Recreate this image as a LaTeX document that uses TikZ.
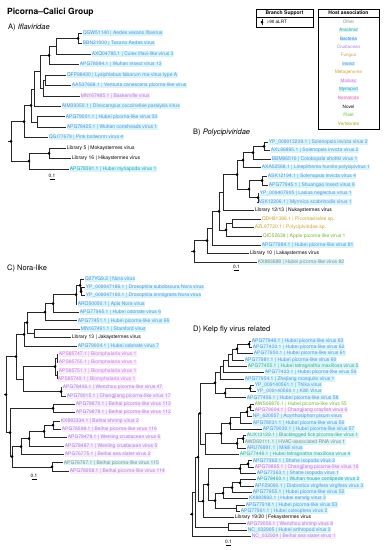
\documentclass[tikz,border=0pt]{standalone}
\usepackage{fontspec}
\setmainfont{TeX Gyre Heros}
\definecolor{hlc}{HTML}{D6F6FA}
\definecolor{hlp}{HTML}{FBEAFB}
\definecolor{cIns}{HTML}{5A90E4}
\definecolor{cCru}{HTML}{A583E2}
\definecolor{cMol}{HTML}{C483E2}
\definecolor{cMyr}{HTML}{2AA3B3}
\definecolor{cAra}{HTML}{3FAE8F}
\definecolor{cBac}{HTML}{3D7FE0}
\definecolor{cFun}{HTML}{C8A24A}
\definecolor{cMet}{HTML}{CFA020}
\definecolor{cNem}{HTML}{E37FA8}
\definecolor{cPla}{HTML}{6FB82A}
\definecolor{cVer}{HTML}{B5A400}
\definecolor{cOth}{HTML}{8A8A8A}
\tikzset{
  lab/.style={anchor=west,inner sep=0.35pt,xshift=0.3pt,font=\fontsize{5}{5}\selectfont},
  ins/.style={text=cIns,fill=hlc},
  cru/.style={text=cCru,fill=hlp},
  mol/.style={text=cMol,fill=hlp},
  myr/.style={text=cMyr,fill=hlc},
  ara/.style={text=cAra,fill=hlc},
  bac/.style={text=cBac,fill=hlc},
  fun/.style={text=cFun},
  met/.style={text=cMet},
  nem/.style={text=cNem,fill=hlp},
  pla/.style={text=cPla},
  ver/.style={text=cVer},
  oth/.style={text=cOth,fill=hlc},
  nov/.style={text=black},
  br/.style={line width=0.6pt,black!85},
  ptitle/.style={anchor=west,inner sep=0pt,font=\fontsize{7.5}{8}\selectfont},
  sbar/.style={line width=0.6pt},
  stxt/.style={inner sep=0pt,font=\fontsize{4.8}{5}\selectfont},
  legtxt/.style={inner sep=0.4pt,font=\fontsize{4.6}{5}\selectfont},
  leghead/.style={inner sep=0pt,font=\bfseries\fontsize{5}{5}\selectfont}
}
\newcommand\lf[5]{\coordinate (#1) at (#2,#3);\node[lab,#4] (#1t) at (#1) {#5};}
\newcommand\nd[3]{\coordinate (#1) at (#2,#3);}
\newcommand\ed[3]{\draw[br] (#1) |- (#2); \draw[br] (#1) |- (#3);}
\newcommand\dt[1]{\fill (#1) circle (1.5);}
\begin{document}
\begin{tikzpicture}[x=1pt,y=-1pt]
\useasboundingbox (0,0) rectangle (389,550);
\fill[white] (0,0) rectangle (389,550);
% ---------- title ----------
\node[anchor=west,inner sep=0pt,font=\bfseries\fontsize{8.5}{9}\selectfont] (title) at (7,12.5) {Picorna–Calici Group};
% ---------- Panel A ----------
\node[ptitle] (ttlA) at (8,28) {A) \textit{Iflaviridae}};
\lf{a1}{82}{33}{ins}{QGW51140 | Aedes vexans iflavirus}
\lf{a2}{82}{43.5}{ins}{BBN21000 | Tesano Aedes virus}
\lf{a3}{91}{54}{ins}{AXQ04785.1 | Culex iflavi-like virus 3}
\lf{a4}{79}{64.4}{ins}{APG78984.1 | Wuhan insect virus 13}
\lf{a5}{66}{74.8}{ins}{QFP98430 | Lysiphlebus fabarum rna-virus type A}
\lf{a6}{71}{85.3}{ins}{AAS37668.1 | Venturia canescens picorna-like virus}
\lf{a7}{80}{95.8}{cru}{MN167485.1 | Baskerville virus}
\lf{a8}{61}{106.2}{ins}{AIM39350.1 | Dinocampus coccinellae paralysis virus}
\lf{a9}{65}{116.7}{ins}{APG79001.1 | Hubei picorna-like virus 30}
\lf{a10}{66}{127.1}{ins}{APG78425.1 | Wuhan coneheads virus 1}
\lf{a11}{48}{137.6}{ins}{QGI77679 | Pink bollworm virus 4}
\lf{a12}{66}{148}{nov}{Library 5 | Mokaystermes virus}
\lf{a13}{71}{158.5}{nov}{Library 16 | Hikaystermes virus}
\lf{a14}{69}{169}{myr}{APG78391.1 | Hubei myriapoda virus 1}
\nd{na1}{78}{38.25}\nd{na2}{56}{46.1}\nd{na3}{49}{55.25}\nd{na4}{45}{80.05}
\nd{na5}{43}{87.9}\nd{na6}{40}{71.6}\nd{na7}{34}{88.9}\nd{na8}{37}{121.9}
\nd{na9}{31}{105.4}\nd{na10}{24}{121.5}\nd{na11}{49}{153.25}\nd{na12}{29}{161.1}
\nd{naR}{11}{141.3}\nd{naS}{8}{141.3}
\ed{na1}{a1}{a2}\ed{na2}{na1}{a3}\ed{na3}{na2}{a4}\ed{na4}{a5}{a6}
\ed{na5}{na4}{a7}\ed{na6}{na3}{na5}\ed{na7}{na6}{a8}\ed{na8}{a9}{a10}
\ed{na9}{na7}{na8}\ed{na10}{na9}{a11}\ed{na11}{a12}{a13}\ed{na12}{na11}{a14}
\ed{naR}{na10}{na12}\draw[br] (naS) -- (naR);
\dt{na1}\dt{na3}\dt{na9}\dt{na10}\dt{na11}\dt{na12}\dt{naR}
\node[stxt] (sA) at (52,175.5) {0.1};
\coordinate (sA1) at (49.5,179); \coordinate (sA2) at (54.5,179);
\draw[sbar] (sA1) -- (sA2);
% ---------- Legend ----------
\node[draw,line width=0.5pt,minimum width=57pt,minimum height=18pt,inner sep=0pt] (bs) at (284.5,18) {};
\node[leghead] (bsh) at (284.5,12.8) {Branch Support};
\draw[line width=0.4pt] (256,17) -- (313,17);
\coordinate (bsd) at (262,22);
\draw[br] ([yshift=3pt]bsd) -- ([yshift=-3pt]bsd);
\dt{bsd}
\node[legtxt,anchor=west] (bst) at (266,22) {>90 aLRT};
\node[draw,line width=0.5pt,minimum width=61pt,minimum height=120pt,inner sep=0pt] (ha) at (348.5,69) {};
\node[leghead] (hah) at (348.5,12.8) {Host association};
\draw[line width=0.4pt] (318,17) -- (379,17);
\node[legtxt,text=cOth] (h1) at (348.5,21.7) {Other};
\node[legtxt,ara] (h2) at (348.5,30.2) {Arachnid};
\node[legtxt,bac] (h3) at (348.5,38.7) {Bacteria};
\node[legtxt,text=cCru] (h4) at (348.5,47.2) {Crustacean};
\node[legtxt,fun] (h5) at (348.5,55.7) {Fungus};
\node[legtxt,ins] (h6) at (348.5,64.2) {Insect};
\node[legtxt,met] (h7) at (348.5,72.7) {Metagenome};
\node[legtxt,mol] (h8) at (348.5,81.2) {Mollusc};
\node[legtxt,myr] (h9) at (348.5,89.7) {Myriapod};
\node[legtxt,nem] (h10) at (348.5,98.2) {Nematode};
\node[legtxt,nov] (h11) at (348.5,106.7) {Novel};
\node[legtxt,pla] (h12) at (348.5,115.2) {Plant};
\node[legtxt,ver] (h13) at (348.5,123.7) {Vertebrate};
% ---------- Panel B ----------
\node[ptitle] (ttlB) at (193,133) {B) \textit{Polycipiviridae}};
\lf{b1}{268}{142}{ins}{YP\_009013239.1 | Solenopsis invicta virus 2}
\lf{b2}{270}{150.6}{ins}{AXL96895.1 | Solenopsis invicta virus 2}
\lf{b3}{271}{159.1}{ins}{BBM96516 | Colobopsis shohki virus 1}
\lf{b4}{261}{167.7}{ins}{AXA52568.1 | Linepithema humile polycipivirus 1}
\lf{b5}{267}{176.3}{ins}{ASK12194.1 | Solenopsis invicta virus 4}
\lf{b6}{268}{184.9}{ins}{APG77945.1 | Shuangao insect virus 8}
\lf{b7}{259}{193.4}{ins}{YP\_009407905 | Lasius neglectus virus 1}
\lf{b8}{257}{202}{ins}{ASK12206.1 | Myrmica scabrinodis virus 1}
\lf{b9}{254}{210.6}{nov}{Library 12/13 | Nukaystermes virus}
\lf{b10}{261}{219.1}{met}{QDH91386.1 | Picornavirales sp.}
\lf{b11}{254}{227.7}{met}{AZL87720.1 | Polycipiviridae sp.}
\lf{b12}{262}{236.3}{pla}{QIC52638 | Apple picorna-like virus 1}
\lf{b13}{261}{244.8}{ins}{APG77984.1 | Hubei picorna-like virus 81}
\lf{b14}{249}{253.4}{nov}{Library 10 | Lakaystermes virus}
\lf{b15}{257}{262}{oth}{KX883688 | Hubei picorna-like virus 82}
\nd{nb1}{264}{146.3}\nd{nb2}{253}{152.7}\nd{nb3}{243}{160.2}\nd{nb4}{262}{180.6}
\nd{nb5}{258}{197.7}\nd{nb6}{249}{189.15}\nd{nb7}{237}{174.7}\nd{nb8}{223}{192.65}
\nd{nb9}{232}{223.4}\nd{nb10}{226}{229.85}\nd{nb11}{219}{211.25}\nd{nb12}{212}{228}
\nd{nb13}{207}{240.7}\nd{nbR}{194}{251.35}\nd{nbS}{191}{251.35}
\ed{nb1}{b1}{b2}\ed{nb2}{nb1}{b3}\ed{nb3}{nb2}{b4}\ed{nb4}{b5}{b6}
\ed{nb5}{b7}{b8}\ed{nb6}{nb4}{nb5}\ed{nb7}{nb3}{nb6}\ed{nb8}{nb7}{b9}
\ed{nb9}{b10}{b11}\ed{nb10}{nb9}{b12}\ed{nb11}{nb8}{nb10}\ed{nb12}{nb11}{b13}
\ed{nb13}{nb12}{b14}\ed{nbR}{nb13}{b15}\draw[br] (nbS) -- (nbR);
\dt{nb1}\dt{nb2}\dt{nb3}\dt{nb4}\dt{nb5}\dt{nb6}\dt{nb7}\dt{nb10}\dt{nb11}\dt{nb13}\dt{nbR}
\node[stxt] (sB) at (236.5,267) {0.1};
\coordinate (sB1) at (234,270.5); \coordinate (sB2) at (239,270.5);
\draw[sbar] (sB1) -- (sB2);
% ---------- Panel C ----------
\node[ptitle] (ttlC) at (7,268) {C) Nora-like};
\lf{c1}{84}{279}{ins}{Q27YG9.2 | Nora virus}
\lf{c2}{85}{287.35}{ins}{YP\_009047186.1 | Drosophila subobscura Nora virus}
\lf{c3}{85}{295.7}{ins}{YP\_009047190.1 | Drosophila immigrans Nora virus}
\lf{c4}{77}{304.05}{ins}{ARO50050.1 | Apis Nora virus}
\lf{c5}{79}{312.4}{ins}{APG77965.1 | Hubei odonate virus 6}
\lf{c6}{77}{320.75}{ins}{APG77451.1 | Hubei picorna-like virus 66}
\lf{c7}{80}{329.1}{ins}{MN167491.1 | Stamford virus}
\lf{c8}{71}{337.45}{nov}{Library 13 | Jakaystermes virus}
\lf{c9}{77}{345.8}{ins}{APG79004.1 | Hubei odonate virus 7}
\lf{c10}{58}{354.15}{mol}{APS85747.1 | Biomphalaria virus 1}
\lf{c11}{58}{362.5}{mol}{APS85755.1 | Biomphalaria virus 1}
\lf{c12}{58}{370.85}{mol}{APS85751.1 | Biomphalaria virus 1}
\lf{c13}{57}{379.2}{mol}{APS85749.1 | Biomphalaria virus 1}
\lf{c14}{62}{387.55}{cru}{APG78496.1 | Wenzhou picorna-like virus 47}
\lf{c15}{66}{395.9}{cru}{APG79015.1 | Changjiang picorna-like virus 17}
\lf{c16}{75}{404.25}{cru}{APG78870.1 | Beihai picorna-like virus 113}
\lf{c17}{75}{412.6}{cru}{APG79878.1 | Beihai picorna-like virus 112}
\lf{c18}{60}{420.95}{cru}{KX883334.1 | Beihai shrimp virus 2}
\lf{c19}{61}{429.3}{cru}{APG78598.1 | Beihai picorna-like virus 116}
\lf{c20}{67}{437.65}{cru}{APG78478.1 | Wenling crustacean virus 6}
\lf{c21}{64}{446}{cru}{APG78487.1 | Wenling crustacean virus 5}
\lf{c22}{64}{454.35}{cru}{APG76775.1 | Beihai sea slater virus 2}
\lf{c23}{63}{462.7}{oth}{APG76767.1 | Beihai picorna-like virus 115}
\lf{c24}{69}{471.05}{cru}{APG78958.1 | Beihai picorna-like virus 114}
\nd{nc1}{81}{291.5}\nd{nc2}{80}{285.25}\nd{nc3}{76}{294.65}\nd{nc4}{53}{303.5}
\nd{nc5}{45}{312.1}\nd{nc6}{34}{333.3}\nd{nc7}{27}{322.7}\nd{nc8}{24}{334.25}
\nd{nc9}{57}{358.3}\nd{nc10}{57}{375}\nd{nc11}{55}{366.7}\nd{nc12}{61}{391.7}
\nd{nc13}{23}{379.2}\nd{nc14}{16}{356.7}\nd{nc15}{53}{408.4}\nd{nc16}{53}{425.1}
\nd{nc17}{44}{431.4}\nd{nc18}{29}{438.7}\nd{nc19}{21}{446.5}\nd{nc20}{52}{466.9}
\nd{nc21}{12}{456.7}\nd{nc22}{10}{432.5}\nd{ncR}{6}{394.6}\nd{ncS}{3.5}{394.6}
\ed{nc1}{c2}{c3}\ed{nc2}{c1}{nc1}\ed{nc3}{nc2}{c4}\ed{nc4}{nc3}{c5}
\ed{nc5}{nc4}{c6}\ed{nc6}{c7}{c8}\ed{nc7}{nc5}{nc6}\ed{nc8}{nc7}{c9}
\ed{nc9}{c10}{c11}\ed{nc10}{c12}{c13}\ed{nc11}{nc9}{nc10}\ed{nc12}{c14}{c15}
\ed{nc13}{nc11}{nc12}\ed{nc14}{nc8}{nc13}\ed{nc15}{c16}{c17}\ed{nc16}{c18}{c19}
\ed{nc17}{nc16}{c20}\ed{nc18}{nc17}{c21}\ed{nc19}{nc18}{c22}\ed{nc20}{c23}{c24}
\ed{nc21}{nc19}{nc20}\ed{nc22}{nc15}{nc21}\ed{ncR}{nc14}{nc22}\draw[br] (ncS) -- (ncR);
\dt{nc1}\dt{nc2}\dt{nc3}\dt{nc4}\dt{nc5}\dt{nc7}\dt{nc8}\dt{nc11}\dt{nc12}\dt{nc14}
\dt{nc15}\dt{nc16}\dt{nc17}\dt{nc18}\dt{nc19}\dt{nc20}\dt{nc21}\dt{nc22}\dt{ncR}
\node[stxt] (sC) at (34,476) {0.1};
\coordinate (sC1) at (31.5,479.5); \coordinate (sC2) at (36.5,479.5);
\draw[sbar] (sC1) -- (sC2);
% ---------- Panel D ----------
\node[ptitle] (ttlD) at (193,330) {D) Kelp fly virus related};
\lf{d1}{251}{341}{ins}{APG77946.1 | Hubei picorna-like virus 63}
\lf{d2}{252}{347.3}{ins}{APG77430.1 | Hubei picorna-like virus 62}
\lf{d3}{253}{353.6}{ins}{APG77950.1 | Hubei picorna-like virus 61}
\lf{d4}{244}{359.9}{ins}{APG77981.1 | Hubei picorna-like virus 60}
\lf{d5}{247}{366.2}{ara}{APG77455.1 | Hubei tetragnatha maxillosa virus 5}
\lf{d6}{264}{372.5}{ins}{APG77423.1 | Hubei picorna-like virus 59}
\lf{d7}{244}{378.8}{ins}{APG77954.1 | Zhejiang mosquito virus 1}
\lf{d8}{254}{385.1}{ins}{YP\_009140561.1 | Thika virus}
\lf{d9}{256}{391.4}{ins}{YP\_009140560.1 | Kilifi Virus}
\lf{d10}{246}{397.7}{ins}{APG77456.1 | Hubei picorna-like virus 58}
\lf{d11}{254}{404}{pla}{AWS06870.1 | Hubei picorna-like virus 55}
\lf{d12}{254}{410.3}{cru}{APG79004.1 | Changjiang crayfish virus 6}
\lf{d13}{252}{416.6}{ins}{NP\_620557 | Acyrthosiphon pisum virus}
\lf{d14}{252}{422.9}{ins}{APG78031.1 | Hubei picorna-like virus 56}
\lf{d15}{262}{429.2}{ins}{APG79030.1 | Hubei picorna-like virus 57}
\lf{d16}{246}{435.5}{ara}{AUX13129.1 | Blacklegged tick picorna-like virus 1}
\lf{d17}{244}{441.8}{oth}{AWD69111.1 | HVAC-associated RNA virus 1}
\lf{d18}{246}{448.1}{ins}{ARU76991.1 | Mikili virus}
\lf{d19}{239}{454.4}{ara}{APG77449.1 | Hubei tetragnatha maxillosa virus 4}
\lf{d20}{252}{460.7}{ins}{APG77362.1 | Shahe isopoda virus 2}
\lf{d21}{254}{467}{cru}{APG79865.1 | Changjiang picorna-like virus 16}
\lf{d22}{256}{473.3}{ins}{APG77363.1 | Shahe isopoda virus 1}
\lf{d23}{256}{479.6}{myr}{APG78460.1 | Wuhan house centipede virus 2}
\lf{d24}{254}{485.9}{ins}{APF29090.1 | Diabrotica virgifera virgifera virus 3}
\lf{d25}{252}{492.2}{ins}{APG77955.1 | Hubei picorna-like virus 52}
\lf{d26}{248}{498.5}{ins}{KX883892.1 | Hubei earwig virus 3}
\lf{d27}{245}{504.8}{ins}{APG77918.1 | Hubei picorna-like virus 53}
\lf{d28}{240}{511.1}{ins}{APG77961.1 | Hubei coleoptera virus 2}
\lf{d29}{234}{517.4}{nov}{Library 19/20 | Fekaystermes virus}
\lf{d30}{246}{523.7}{cru}{APG79056.1 | Wenzhou shrimp virus 8}
\lf{d31}{247}{530}{ins}{NC\_032905 | Hubei arthropod virus 3}
\lf{d32}{251}{536.3}{cru}{NC\_032924 | Beihai sea slater virus 1}
\nd{nd1}{249}{344.15}\nd{nd2}{237}{348.9}\nd{nd3}{232}{354.4}\nd{nd4}{228}{360.3}
\nd{nd5}{223}{366.4}\nd{nd6}{220}{372.6}\nd{nd7}{250}{388.25}\nd{nd8}{225}{393}
\nd{nd9}{215}{382.8}\nd{nd10}{250}{407.15}\nd{nd11}{247}{411.9}\nd{nd12}{240}{417.4}
\nd{nd13}{230}{423.3}\nd{nd14}{243}{438.65}\nd{nd15}{237}{443.4}\nd{nd16}{221}{433.35}
\nd{nd17}{205}{443.9}\nd{nd18}{200}{413.35}\nd{nd19}{248}{463.85}\nd{nd20}{240}{468.6}
\nd{nd21}{240}{482.75}\nd{nd22}{232}{487.5}\nd{nd23}{223}{493}\nd{nd24}{236}{508}
\nd{nd25}{215}{500.5}\nd{nd26}{208}{484.55}\nd{nd27}{203}{501}\nd{nd28}{198}{457.2}
\nd{nd29}{228}{526.85}\nd{nd30}{195}{492}\nd{ndR}{192}{514.2}\nd{ndS}{189.5}{514.2}
\ed{nd1}{d1}{d2}\ed{nd2}{nd1}{d3}\ed{nd3}{nd2}{d4}\ed{nd4}{nd3}{d5}
\ed{nd5}{nd4}{d6}\ed{nd6}{nd5}{d7}\ed{nd7}{d8}{d9}\ed{nd8}{nd7}{d10}
\ed{nd9}{nd6}{nd8}\ed{nd10}{d11}{d12}\ed{nd11}{nd10}{d13}\ed{nd12}{nd11}{d14}
\ed{nd13}{nd12}{d15}\ed{nd14}{d16}{d17}\ed{nd15}{nd14}{d18}\ed{nd16}{nd13}{nd15}
\ed{nd17}{nd16}{d19}\ed{nd18}{nd9}{nd17}\ed{nd19}{d20}{d21}\ed{nd20}{nd19}{d22}
\ed{nd21}{d23}{d24}\ed{nd22}{nd21}{d25}\ed{nd23}{nd22}{d26}\ed{nd24}{d27}{d28}
\ed{nd25}{nd23}{nd24}\ed{nd26}{nd20}{nd25}\ed{nd27}{nd26}{d29}\ed{nd28}{nd18}{nd27}
\ed{nd29}{d30}{d31}\ed{nd30}{nd28}{nd29}\ed{ndR}{nd30}{d32}\draw[br] (ndS) -- (ndR);
\dt{nd1}\dt{nd2}\dt{nd7}\dt{nd8}\dt{nd9}\dt{nd10}\dt{nd11}\dt{nd13}\dt{nd14}\dt{nd15}
\dt{nd16}\dt{nd18}\dt{nd19}\dt{nd20}\dt{nd21}\dt{nd22}\dt{nd23}\dt{nd25}\dt{nd26}
\dt{nd27}\dt{nd28}\dt{ndR}
\node[stxt] (sD) at (228.5,542) {0.1};
\coordinate (sD1) at (226,545.5); \coordinate (sD2) at (231,545.5);
\draw[sbar] (sD1) -- (sD2);
\end{tikzpicture}
\end{document}
